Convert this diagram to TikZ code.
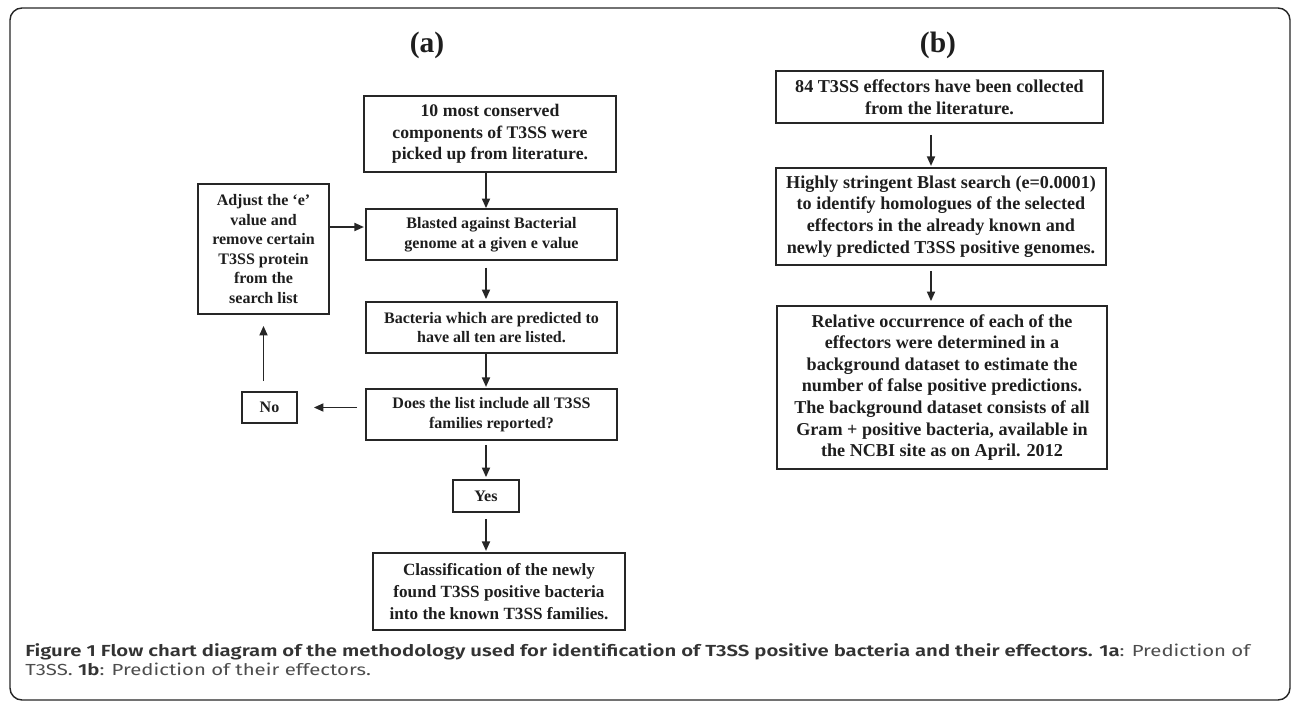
\documentclass[tikz,border=0pt]{standalone}
\usepackage{fontspec}
\setmainfont{Liberation Serif}
\newfontfamily\capfont{Fira Sans}[BoldFont={Fira Sans SemiBold}]
\usetikzlibrary{positioning, arrows.meta, calc}
\definecolor{boxText}{HTML}{1E1E1E}
\definecolor{boxLine}{HTML}{262626}
\definecolor{capText}{HTML}{333333}
\definecolor{capMuted}{HTML}{4D4D4D}

\begin{document}
\begin{tikzpicture}[
  x=0.25mm, y=-0.25mm,
  every node/.style={text=boxText},
  flowbox/.style={rectangle, draw=boxLine, line width=1.2pt, align=center,
              inner sep=0.4mm, font=\bfseries\fontsize{11.4}{13.9}\selectfont},
  bigbox/.style={flowbox, font=\bfseries\fontsize{12.6}{15.4}\selectfont},
  effbox/.style={flowbox, font=\bfseries\fontsize{12.9}{15.4}\selectfont},
  paneltitle/.style={font=\bfseries\fontsize{21}{24}\selectfont},
  frame/.style={draw=boxLine, line width=1pt, rounded corners=3mm},
  arr/.style={-{Triangle[length=2.4mm, width=2mm]}, draw=boxLine, line width=1.3pt},
]
  \useasboundingbox (0,0) rectangle (1292,702);
  \draw[frame] (10,8) rectangle (1290,700);

  \coordinate (spine_a) at (486,0);
  \coordinate (spine_b) at (931,0);

  % (a)
  \node[paneltitle] at (427,45) (ta) {(a)};
  \node[bigbox, minimum width=63mm, minimum height=19mm] at (490,134) (pick)
        {10 most conserved\\components of T3SS were\\picked up from literature.};
  \node[flowbox, minimum width=62.75mm, minimum height=12.75mm] at (491.5,234.5) (blast)
        {Blasted against Bacterial\\genome at a given e value};
  \node[flowbox, minimum width=32.75mm, minimum height=32.5mm] at (263.5,249) (adjust)
        {Adjust the ‘e’\\value and\\remove certain\\T3SS protein\\from the\\search list};
  \node[flowbox, minimum width=62.75mm, minimum height=12.75mm] at (491.5,327.5) (listed)
        {Bacteria which are predicted to\\have all ten are listed.};
  \node[flowbox, minimum width=62.75mm, minimum height=12.75mm] at (491.5,414.5) (check)
        {Does the list include all T3SS\\families reported?};
  \node[flowbox, minimum width=13.75mm, minimum height=7.75mm] at (269.5,407.5) (no) {No};
  \node[flowbox, minimum width=16.5mm, minimum height=8mm] at (486,496) (yes) {Yes};
  \node[bigbox, minimum width=63mm, minimum height=19.25mm,
        font=\bfseries\fontsize{12.2}{15.4}\selectfont] at (499,591.5) (classify)
        {Classification of the newly\\found T3SS positive bacteria\\into the known T3SS families.};

  \coordinate (loop_in) at ([yshift=5.5mm]adjust.east);

  \draw[arr] (pick.south -| spine_a) -- (blast.north -| spine_a);
  \draw[arr, shorten <=1.7mm, shorten >=0.5mm] (blast.south -| spine_a) -- (listed.north -| spine_a);
  \draw[arr, shorten >=0.3mm] (listed.south -| spine_a) -- (check.north -| spine_a);
  \draw[arr, shorten <=1mm, shorten >=0.5mm] (check.south -| spine_a) -- (yes.north);
  \draw[arr, shorten <=1.5mm, shorten >=0.3mm] (yes.south) -- (classify.north -| spine_a);
  \draw[arr, shorten <=2mm, shorten >=4mm] (check.west |- no.east) -- (no.east);
  \draw[arr, shorten <=2.5mm, shorten >=2.75mm] (no.north -| adjust.south) -- (adjust.south);
  \draw[arr, shorten >=0.3mm] (loop_in) -- (blast.west |- loop_in);

  % (b)
  \node[paneltitle] at (938,45) (tb) {(b)};
  \node[effbox, minimum width=81.75mm, minimum height=13mm] at (939.5,97) (collect)
        {84 T3SS effectors have been collected\\from the literature.};
  \node[effbox, minimum width=82.5mm, minimum height=24.25mm] at (941,216.5) (search)
        {Highly stringent Blast search (e=0.0001)\\to identify homologues of the selected\\effectors in the already known and\\newly predicted T3SS positive genomes.};
  \node[effbox, minimum width=82.5mm, minimum height=40.75mm] at (942,387.5) (occur)
        {Relative occurrence of each of the\\effectors were determined in a\\background dataset to estimate the\\number of false positive predictions.\\The background dataset consists of all\\Gram + positive bacteria, available in\\the NCBI site as on April. 2012};

  \draw[arr, shorten <=2.75mm, shorten >=0.3mm] (collect.south -| spine_b) -- (search.north -| spine_b);
  \draw[arr, shorten <=1.25mm, shorten >=1mm] (search.south -| spine_b) -- (occur.north -| spine_b);

  \node[anchor=north west, inner sep=0pt, text=capMuted,
        font=\capfont\fontsize{11.4}{13.5}\selectfont] at (25,643) (caption)
        {\scalebox{1.27}[1]{\begin{tabular}{@{}l@{}}\textcolor{capText}{\textbf{Figure 1 Flow chart diagram of the methodology used for identification of T3SS positive bacteria and their effectors. 1a}}: Prediction of\\T3SS. \textcolor{capText}{\textbf{1b}}: Prediction of their effectors.\end{tabular}}};
\end{tikzpicture}
\end{document}
